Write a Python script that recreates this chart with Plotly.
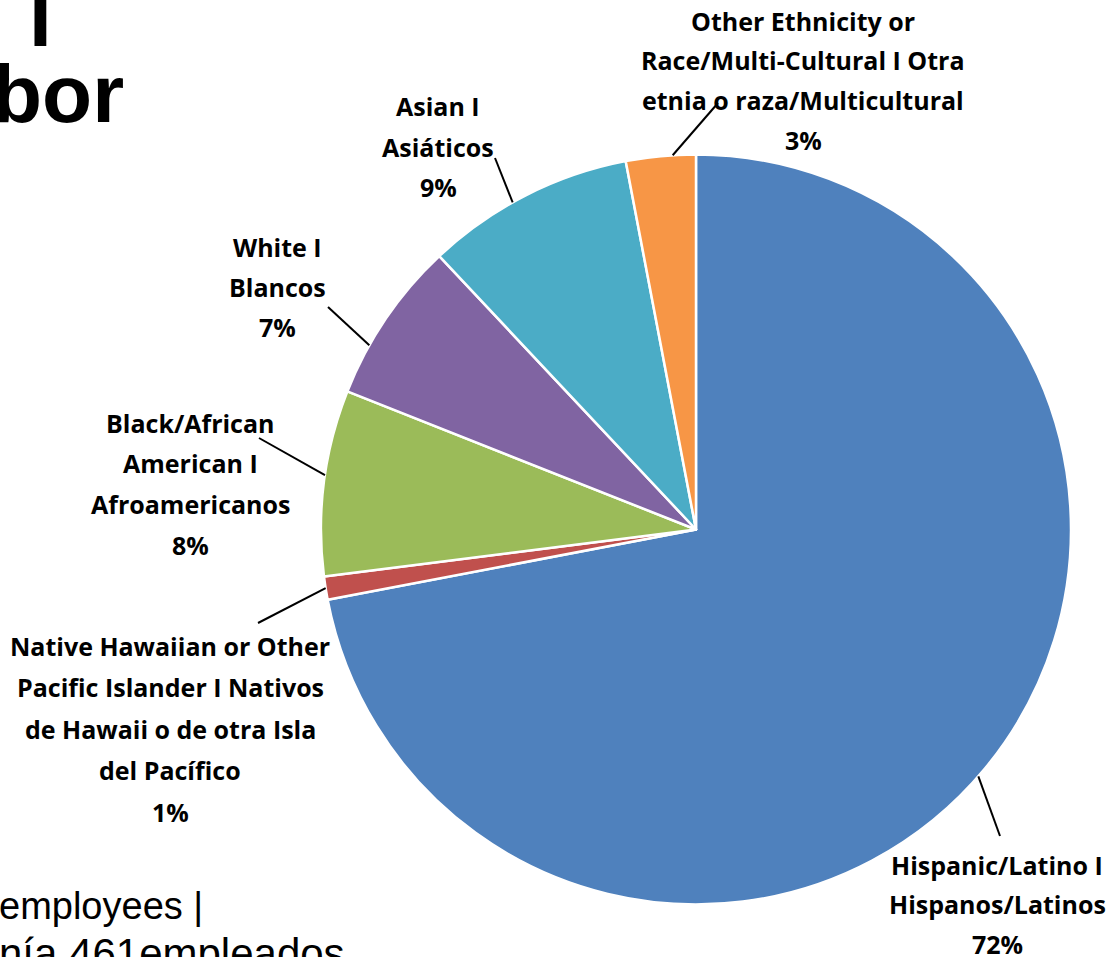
import math
import plotly.graph_objects as go

# ---------------- data ----------------
categories = [
    "Hispanic/Latino I Hispanos/Latinos",
    "Native Hawaiian or Other Pacific Islander I Nativos de Hawaii o de otra Isla del Pacífico",
    "Black/African American I Afroamericanos",
    "White I Blancos",
    "Asian I Asiáticos",
    "Other Ethnicity or Race/Multi-Cultural I Otra etnia o raza/Multicultural",
]
values = [72, 1, 8, 7, 9, 3]
label_lines = [
    ["Hispanic/Latino I", "Hispanos/Latinos"],
    ["Native Hawaiian or Other", "Pacific Islander I Nativos", "de Hawaii o de otra Isla", "del Pacífico"],
    ["Black/African", "American I", "Afroamericanos"],
    ["White I", "Blancos"],
    ["Asian I", "Asiáticos"],
    ["Other Ethnicity or", "Race/Multi-Cultural I Otra", "etnia o raza/Multicultural"],
]
title_fragments = ["I", "bor"]
footer_fragments = ["employees |", "nía 461empleados"]

# ---------------- styles / layout positions ----------------
colors = ["#4F81BD", "#C0504D", "#9BBB59", "#8064A2", "#4BACC6", "#F79646"]
W, H = 1116, 957
PAGE_OFF = 0                       # page body margin removed via post_script
CX, CY, R = 696, 529.5, 375
LABEL_DY = -1.5                    # visual-centre correction for label text
# label block: (center x px, first line center y px, line step px)
label_pos = [(997, 866, 39.5), (170, 647, 41.5), (190, 424, 40.7),
             (277, 248, 40), (438, 108, 40), (803, 22, 39.7)]
# leader line label-side end (px) and anchor fraction within slice
leader_end = [(1000, 836), (258, 623), (259, 438), (328, 307), (495, 158), (718, 103)]
anchor_frac = [0.506, 0.5, 0.54, 0.31, 0.43, 0.67]

LABEL_FONT = dict(family="Open Sans, Lato, sans-serif", size=25, color="black", weight=700)


def px(x):
    return (x - PAGE_OFF) / W


def py(y):
    return 1 - (y - PAGE_OFF) / H


fig = go.Figure(go.Pie(
    labels=categories,
    values=values,
    sort=False,
    direction="clockwise",
    rotation=0,
    textinfo="none",
    hoverinfo="label+percent",
    marker=dict(colors=colors, line=dict(color="white", width=2.5)),
    domain=dict(x=[px(CX - R), px(CX + R)], y=[py(CY + R), py(CY - R)]),
    showlegend=False,
))

annotations = []
shapes = []
total = sum(values)
cum = 0
for i, v in enumerate(values):
    a0 = cum / total * 360
    a1 = (cum + v) / total * 360
    cum += v
    ang = math.radians(a0 + (a1 - a0) * anchor_frac[i])
    sx = CX + R * math.sin(ang)
    sy = CY - R * math.cos(ang)
    ex, ey = leader_end[i]
    shapes.append(dict(type="line", xref="paper", yref="paper",
                       x0=px(sx), y0=py(sy), x1=px(ex), y1=py(ey),
                       line=dict(color="black", width=2)))
    lx, ly, step = label_pos[i]
    lines = label_lines[i] + [f"{round(v / total * 100)}%"]
    for k, t in enumerate(lines):
        annotations.append(dict(text=t, x=px(lx), y=py(ly + k * step + LABEL_DY),
                                xref="paper", yref="paper", xanchor="center",
                                yanchor="middle", showarrow=False, font=LABEL_FONT))

TITLE_FONT = dict(family="Liberation Sans, Arial, sans-serif", size=82, color="black", weight=700)
annotations.append(dict(text=title_fragments[0], x=px(26.5), y=py(46), xref="paper", yref="paper",
                        xanchor="left", yanchor="bottom", yshift=-19, showarrow=False,
                        font=TITLE_FONT))
annotations.append(dict(text=title_fragments[1], x=px(-10), y=py(122), xref="paper", yref="paper",
                        xanchor="left", yanchor="bottom", yshift=-19, showarrow=False,
                        font=TITLE_FONT))

FOOT_FONT1 = dict(family="Liberation Sans, Arial, sans-serif", size=38, color="black")
FOOT_FONT2 = dict(family="Liberation Sans, Arial, sans-serif", size=42, color="black")
annotations.append(dict(text=footer_fragments[0], x=px(-3), y=py(919), xref="paper", yref="paper",
                        xanchor="left", yanchor="bottom", yshift=-10, showarrow=False,
                        font=FOOT_FONT1))
annotations.append(dict(text=footer_fragments[1], x=px(-3), y=py(968), xref="paper", yref="paper",
                        xanchor="left", yanchor="bottom", yshift=-11, showarrow=False,
                        font=FOOT_FONT2))

fig.update_layout(
    width=W, height=H,
    margin=dict(l=0, r=0, t=0, b=0),
    paper_bgcolor="white", plot_bgcolor="white",
    annotations=annotations,
    shapes=shapes,
)

fig.write_html("out.html",
               config={"displayModeBar": False},
               post_script="document.body.style.margin='0';document.body.style.overflow='hidden';")
